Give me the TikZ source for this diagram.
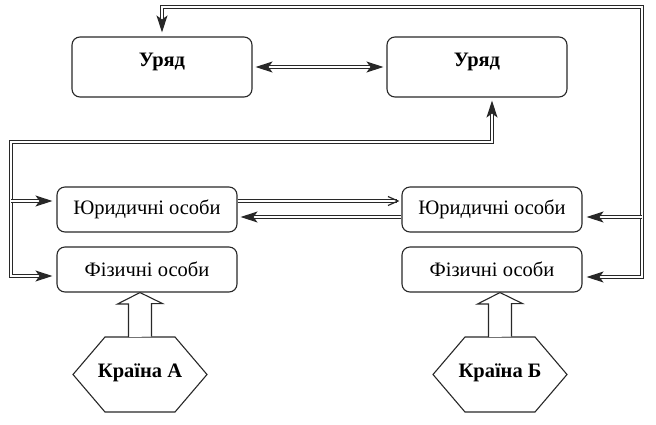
\documentclass[tikz,border=0pt]{standalone}
\usepackage{fontspec}
\setmainfont{Liberation Serif}
\usetikzlibrary{arrows.meta,positioning,calc}
\definecolor{LineGray}{RGB}{40, 40, 40}

\begin{document}
\begin{tikzpicture}[x=1pt, y=-1pt, >={Stealth[length=17pt,width=11pt,inset=4pt]},
    box/.style={draw=LineGray, line width=1.1pt, rounded corners=8pt, minimum width=180pt, font=\fontsize{20.5}{24}\selectfont},
    govbox/.style={box, minimum height=60pt, text depth=15pt, font=\fontsize{20.5}{24}\selectfont\bfseries},
    hextext/.style={inner sep=0pt, text depth=8pt, font=\fontsize{20.5}{24}\selectfont\bfseries},
    hexline/.style={draw=LineGray, line width=1.1pt, line join=miter},
    dbl/.style={draw=LineGray, line width=1.2pt, double, double distance=1.5pt},
    hollow/.style={draw=LineGray, line width=1.1pt, fill=white, line join=miter}]
        \useasboundingbox (0,0) rectangle (656,424);

        % Uriady
        \node[govbox] (urA) at (162,67) {Уряд};
        \node[govbox] (urB) at (477,67) {Уряд};

        % osoby
        \node[box, minimum height=45pt] (jurA) at (147,209.5) {Юридичні особи};
        \node[box, minimum height=45pt] (fizA) at (147,269.5) {Фізичні особи};
        \node[box, minimum height=45pt] (jurB) at (492,209.5) {Юридичні особи};
        \node[box, minimum height=45pt] (fizB) at (492,269.5) {Фізичні особи};

        % krainy
        \node[hextext] (hexA) at (140,374.5) {Країна А};
        \node[hextext] (hexB) at (500,374.5) {Країна Б};
        \foreach \h in {hexA,hexB}
            \draw[hexline] (\h.center) ++(-67,0) -- ++(32,-37.5) -- ++(70,0) -- ++(32,37.5) -- ++(-32,37.5) -- ++(-70,0) -- cycle;

        \coordinate (lt) at (11,142);
        \coordinate (lb) at (11,276);
        \coordinate (rt) at (642,7);
        \coordinate (rb) at (642,277);

        % mizh uriadamy
        \draw[dbl, <->, shorten <=3pt, shorten >=3pt] (urA) -- (urB);

        % prava petlia
        \draw[dbl, <->, shorten <=4pt, shorten >=4pt] (fizB.east |- rb) -- (rb) -- (rt) -| (urA.north);
        \draw[dbl, ->, shorten >=4pt] (642,217) -- (jurB.east |- 0,217);

        % liva petlia
        \draw[dbl, <->, shorten <=4pt, shorten >=3pt] (fizA.west |- lb) -- (lb) -- (lt) -| ([xshift=15pt]urB.south);
        \draw[dbl, ->, shorten >=4pt] (11,201) -- (jurA.west |- 0,201);

        % mizh yurydychnymy osobamy
        \draw[dbl, -{Straight Barb[length=10pt,width=9pt]}, shorten >=2pt] (jurA.east |- 0,201) -- (jurB.west |- 0,201);
        \draw[dbl, ->, shorten >=3pt] (jurB.west |- 0,217) -- (jurA.east |- 0,217);

        % vid krain
        \foreach \h/\f in {hexA/fizA,hexB/fizB}
            \draw[hollow] (\h.center) ++(-11.5,-37.5) -- ++(0,-33) -- ++(-11,0) -- (\h.center |- \f.south) -- ++(22.5,11) -- ++(-11,0) -- ++(0,33);
\end{tikzpicture}
\end{document}
